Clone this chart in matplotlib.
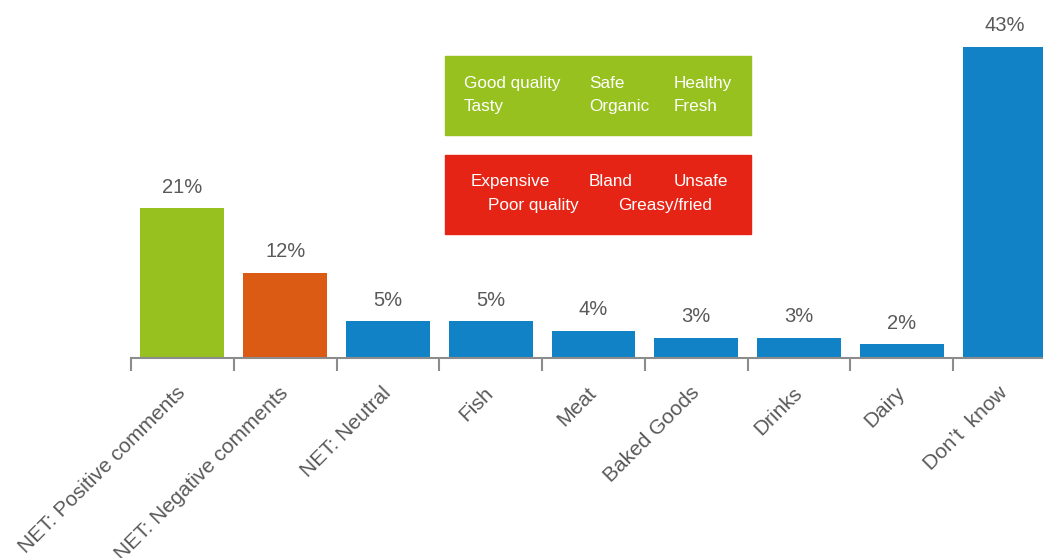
import matplotlib
matplotlib.use("Agg")
import matplotlib.pyplot as plt
from matplotlib.patches import Rectangle
import numpy as np

plt.rcParams['font.family'] = ['Liberation Sans', 'DejaVu Sans']

# data
categories = ["NET: Positive comments", "NET: Negative comments", "NET: Neutral",
              "Fish", "Meat", "Baked Goods", "Drinks", "Dairy", "Don\u2019t  know"]
values = [20.7, 11.8, 5.1, 5.1, 3.8, 2.8, 2.8, 1.9, 43.0]
value_labels = ["21%", "12%", "5%", "5%", "4%", "3%", "3%", "2%", "43%"]
bar_colors = ["#96C11E", "#DB5A14", "#1182C5", "#1182C5", "#1182C5",
              "#1182C5", "#1182C5", "#1182C5", "#1182C5"]

positive_rows = [["Good quality", "Safe", "Healthy"], ["Tasty", "Organic", "Fresh"]]
negative_rows = [["Expensive", "Bland", "Unsafe"], ["Poor quality", "Greasy/fried"]]

W, H = 1043, 558
fig = plt.figure(figsize=(W / 100, H / 100), dpi=100)
ax = fig.add_axes([131 / W, (H - 358) / H, 925 / W, 358 / H])

x = np.arange(len(categories))
ax.bar(x, values, width=0.816, color=bar_colors, zorder=2)
for xi, v, lab in zip(x, values, value_labels):
    ax.text(xi, v + 1.6, lab, ha='center', va='bottom', fontsize=14.5, color='#595959')

ax.set_xlim(-0.5, len(categories) - 0.5)
ax.set_ylim(0, 49.5)
for s in ['top', 'right', 'left']:
    ax.spines[s].set_visible(False)
ax.spines['bottom'].set_color('#8c8c8c')
ax.spines['bottom'].set_linewidth(1.5)
ax.spines['bottom'].set_zorder(3)
ax.set_yticks([])

ax.set_xticks(x)
ax.set_xticklabels(categories, rotation=45, ha='right', va='center',
                   rotation_mode='anchor', fontsize=15, color='#595959')
ax.tick_params(axis='x', which='major', length=0, pad=23)
ax.set_xticks(np.arange(-0.5, len(categories), 1.0), minor=True)
ax.tick_params(axis='x', which='minor', length=9.5, width=1.5, color='#8c8c8c', direction='out')

# comment boxes
fig.patches.append(Rectangle((445 / W, 1 - 135 / H), 306 / W, 79 / H,
                             transform=fig.transFigure, color='#96C11F', zorder=1))
fig.patches.append(Rectangle((445 / W, 1 - 234 / H), 306 / W, 79 / H,
                             transform=fig.transFigure, color='#E52416', zorder=1))

pos_cols = [464, 589, 674]
pos_y = [83.5, 106.5]
for row, yy in zip(positive_rows, pos_y):
    for word, xx in zip(row, pos_cols):
        fig.text(xx / W, 1 - yy / H, word, ha='left', va='center', fontsize=12.3, color='white')

neg_cols = [[471, 589, 674], [488, 618]]
neg_y = [181.5, 205.5]
for row, cols, yy in zip(negative_rows, neg_cols, neg_y):
    for word, xx in zip(row, cols):
        fig.text(xx / W, 1 - yy / H, word, ha='left', va='center', fontsize=12.3, color='white')

fig.savefig("out.png", dpi=100)
